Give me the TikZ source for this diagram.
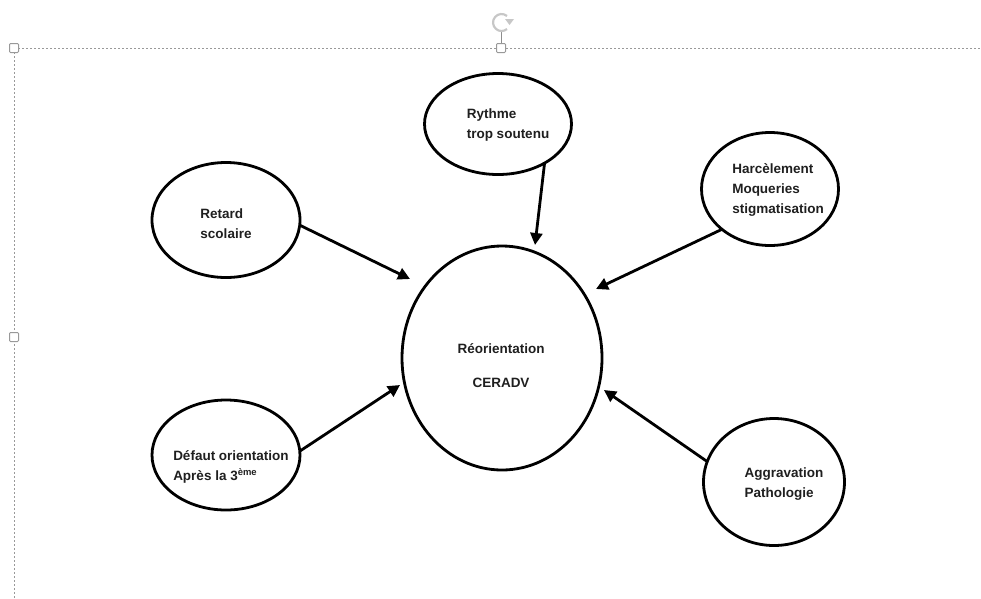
\documentclass[tikz,border=0pt]{standalone}
\usepackage{fontspec}
\setmainfont{Liberation Sans}
\usetikzlibrary{shapes.geometric,arrows.meta}
\tikzstyle{bubble}=[ellipse,draw,line width=2.8pt,inner sep=0pt,outer sep=0pt]
\tikzstyle{txt}=[align=left,inner sep=0pt,text=black!88,font=\bfseries\fontsize{13.5}{20}\selectfont]
\tikzstyle{link}=[draw,line width=2.8pt,-{Triangle[length=12pt,width=12pt]}]
\tikzstyle{frame}=[draw=black!40,line width=0.8pt,dash pattern=on 2pt off 2pt]
\tikzstyle{handle}=[rectangle,rounded corners=1pt,draw=black!40,fill=white,line width=1pt,minimum size=9pt,inner sep=0pt]

\begin{document}
\begin{tikzpicture}[x=1pt,y=-1pt]
  \useasboundingbox (0,0) rectangle (981,598);
  % selection frame
  \draw[frame] (14,48) -- (981,48);
  \draw[frame] (14,48) -- (14,598);
  \draw[black!45,line width=0.8pt] (501,32) -- (501,48);
  \draw[black!22,line width=2.2pt] (507,16) arc[start angle=-50,end angle=-310,radius=8.5];
  \fill[black!22] (505,19) -- (514,19) -- (509.5,25) -- cycle;
  \node[handle] (H1) at (14,48) {};
  \node[handle] (H2) at (501,48) {};
  \node[handle] (H3) at (14,337) {};

  % bubbles
  \node[bubble,minimum width=200pt,minimum height=224pt] (reo) at (502,358) {};
  \node[bubble,minimum width=147pt,minimum height=101pt] (rythme) at (498,124) {};
  \node[bubble,minimum width=148pt,minimum height=115pt] (retard) at (226,220) {};
  \node[bubble,minimum width=137pt,minimum height=113pt] (harc) at (770,189) {};
  \node[bubble,minimum width=148pt,minimum height=110pt] (defaut) at (226,455) {};
  \node[bubble,minimum width=141pt,minimum height=127pt] (aggr) at (774,482) {};

  % texts
  \node[txt,align=center] (reoT) at (501,366) {Réorientation\\[14pt]CERADV};
  \node[txt] (rythmeT) at (508,125) {Rythme\\trop soutenu};
  \node[txt] (retardT) at (226,224) {Retard\\scolaire};
  \node[txt] (harcT) at (778,190) {Harcèlement\\Moqueries\\stigmatisation};
  \node[txt] (defautT) at (231,467) {Défaut orientation\\Après la 3\textsuperscript{ème}};
  \node[txt] (aggrT) at (784,484) {Aggravation\\Pathologie};

  % arrow ends
  \coordinate (t1) at (410,279);
  \coordinate (t2) at (535,245);
  \coordinate (t3) at (596,289);
  \coordinate (t4) at (400,385);
  \coordinate (t5) at (604,390);

  \path[link] (retard.-4) -- (t1);
  \path[link] (rythme.-40) -- (t2);
  \path[link] (harc.-140) -- (t3);
  \path[link] (defaut.3) -- (t4);
  \path[link] (aggr.163) -- (t5);
\end{tikzpicture}
\end{document}
